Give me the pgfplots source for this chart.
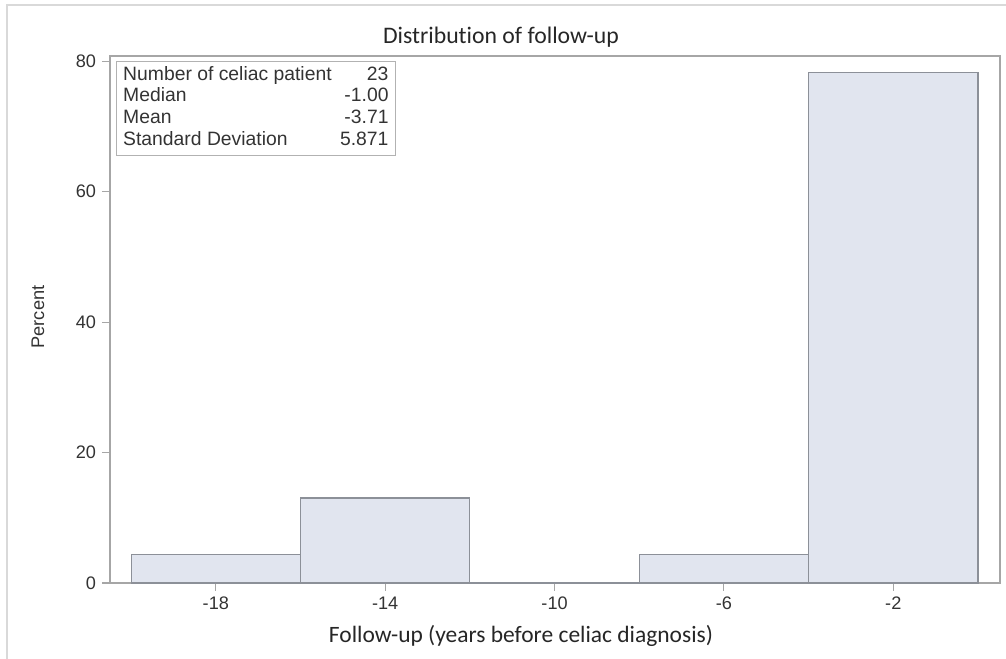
\documentclass[border=0pt]{standalone}
\usepackage{pgfplots}
\pgfplotsset{compat=1.18}
\usepackage{fontspec}
\setmainfont{Liberation Sans}
\newfontfamily\calfont[Ligatures=NoCommon]{Carlito}
\definecolor{barfill}{HTML}{E1E5EF}
\definecolor{baredge}{HTML}{8C9098}
\definecolor{framegray}{HTML}{A6A6A6}
\definecolor{txt}{HTML}{333333}
\begin{document}
\begin{tikzpicture}[x=1pt,y=1pt]
\useasboundingbox (-82.5,-57) rectangle (672,437.25);
\draw[color=black!15, line width=1pt] (-77.25,-57) -- (-77.25,433.5) -- (672,433.5);
\begin{axis}[
  at={(0,0)}, anchor=south west,
  scale only axis, width=667.5pt, height=395.25pt,
  xmin=-20.5, xmax=0.52, ymin=0, ymax=80.8,
  axis line style={framegray, line width=0.9pt},
  xtick={-18,-14,-10,-6,-2}, ytick={0,20,40,60,80},
  xtick pos=lower, ytick pos=left, tick align=outside,
  major tick length=6pt,
  tick style={framegray, line width=0.8pt},
  ticklabel style={font=\fontsize{13.6}{15}\selectfont, text=txt},
  /pgf/number format/assume math mode=true,
  xticklabel style={yshift=-1pt},
  yticklabel style={xshift=-1pt},
  clip=false,
]
\addplot[ybar interval, fill=barfill, draw=baredge, line width=0.9pt]
  coordinates {(-20,4.3478) (-16,13.0435) (-12,0) (-8,4.3478) (-4,78.2609) (0,78.2609)};
\end{axis}
\node[draw=black!30, line width=0.8pt, anchor=north west, inner xsep=5pt, inner ysep=2.5pt, text=txt,
  font=\fontsize{14.5}{16.3}\selectfont] at (4.5,391.5)
  {\begin{tabular*}{199pt}{@{}l@{\extracolsep{\fill}}r@{}}
   Number of celiac patient & 23\\
   Median & -1.00\\
   Mean & -3.71\\
   Standard Deviation & 5.871
   \end{tabular*}};
\node[font=\calfont\fontsize{17.8}{20}\selectfont, text=black!85] at (293.25,409.5) {Distribution of follow-up};
\node[font=\calfont\fontsize{17.6}{20}\selectfont, text=black!85] at (308.25,-39.75) {Follow-up (years before celiac diagnosis)};
\node[rotate=90, font=\fontsize{13.7}{15}\selectfont, text=txt] at (-54,199.5) {Percent};
\end{tikzpicture}
\end{document}
